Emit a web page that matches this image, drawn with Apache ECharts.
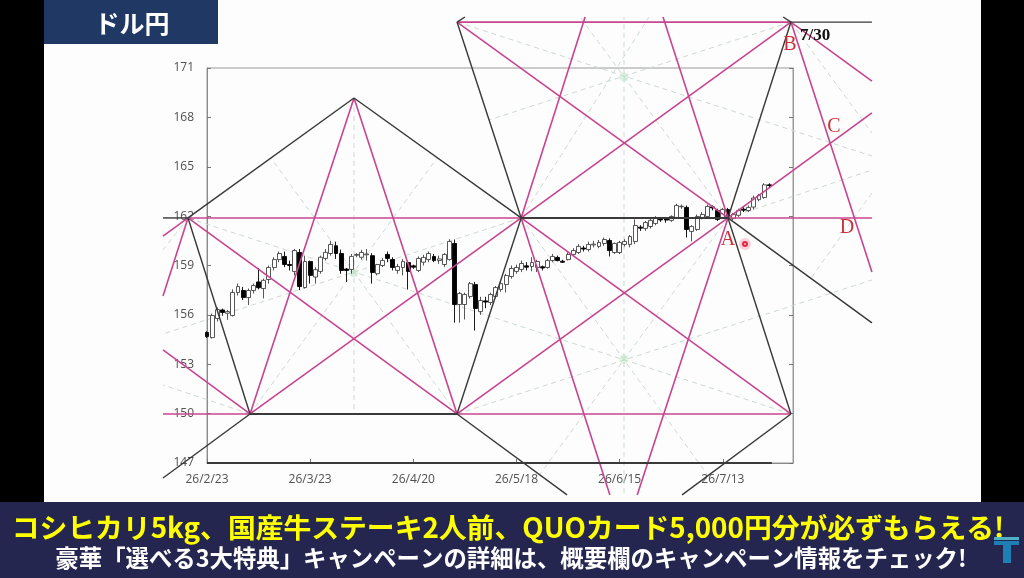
<!DOCTYPE html>
<html><head><meta charset="utf-8">
<style>html,body{margin:0;padding:0;background:#000;overflow:hidden}#c{width:1024px;height:578px}</style>
<script src="https://cdn.jsdelivr.net/npm/echarts@6/dist/echarts.min.js"></script>
</head><body><div id="c"></div>
<script>
const dateLabels=['26/2/23','26/3/23','26/4/20','26/5/18','26/6/15','26/7/13'];
const opens=[154.93,154.62,155.78,156.3,156.1,155.96,157.36,157.48,157.05,157.48,
158.0,157.6,158.15,158.88,159.36,159.55,159.06,158.64,159.79,157.66,
159.24,158.3,158.64,159.43,159.73,160.2,159.73,158.78,158.76,159.62,
159.5,159.65,159.6,158.5,159.0,159.67,159.36,158.7,158.88,159.18,
158.98,158.7,159.2,159.36,159.55,159.3,159.06,159.36,160.34,156.63,
156.63,157.12,157.84,156.2,156.85,156.75,157.12,157.54,157.84,158.33,
158.64,158.76,158.98,158.94,158.88,158.92,158.88,159.3,159.49,159.26,
159.36,159.67,159.79,160.06,159.97,160.25,160.16,160.34,160.52,159.79,
159.79,160.28,160.28,160.46,161.33,161.25,161.37,161.55,161.83,161.83,
161.74,161.92,162.57,162.53,161.07,161.19,161.92,161.98,162.56,162.34,
161.92,162.4,161.85,162.05,162.42,162.34,162.55,163.0,163.13,163.9];
const closes=[154.68,155.96,156.32,156.15,156.2,157.36,157.72,157.05,157.48,157.78,
157.65,158.1,158.88,159.36,159.73,159.06,159.0,159.91,157.72,159.24,
158.4,158.75,159.5,159.8,160.28,159.73,158.7,158.7,159.55,159.67,
159.79,159.7,158.57,159.06,159.3,159.43,158.88,158.94,159.24,158.64,
158.9,159.43,159.49,159.73,159.3,159.4,159.67,160.46,156.63,157.3,
157.24,157.9,156.39,156.87,156.78,157.24,157.66,157.9,158.39,158.82,
158.88,159.12,158.9,159.18,159.24,158.85,159.3,159.55,159.3,159.2,
159.67,159.91,160.16,160.0,160.28,160.3,160.4,160.58,159.91,160.34,
160.4,160.46,160.76,161.43,161.27,161.61,161.74,161.86,161.77,161.76,
161.98,162.65,162.6,161.19,161.37,161.98,162.1,162.59,162.5,161.8,
162.4,161.9,162.1,162.34,162.36,162.53,163.1,163.25,163.9,163.86];
const lows=[154.6,154.56,155.6,155.95,155.7,155.9,157.18,156.9,156.6,157.3,
157.55,157.0,157.9,158.7,159.2,158.9,158.7,158.4,157.5,157.6,
157.9,157.9,158.5,159.3,159.6,159.4,158.5,158.0,158.5,159.5,
159.35,159.3,157.9,158.4,158.9,159.2,158.7,158.5,158.4,157.54,
158.8,158.6,159.0,159.2,159.2,159.1,158.9,159.3,155.53,155.53,
155.72,157.0,155.05,156.0,156.4,156.6,157.0,157.4,157.36,158.2,
158.5,158.6,158.7,158.65,158.6,158.7,158.8,159.2,159.25,159.15,
159.3,159.55,159.7,159.85,159.85,160.1,160.05,160.2,159.55,159.7,
159.7,160.15,160.1,160.3,161.1,161.1,161.25,161.45,161.65,161.6,
161.65,161.85,162.45,160.7,160.46,161.1,161.8,161.85,162.35,161.7,
161.85,161.8,161.75,161.95,162.25,162.25,162.4,162.9,163.05,163.75];
const highs=[155.0,156.08,156.45,156.38,156.3,157.55,157.9,157.7,157.6,157.9,
158.85,158.2,159.0,159.5,159.85,159.85,159.3,160.0,160.0,159.6,
159.3,158.9,159.6,160.0,160.5,160.45,159.97,158.85,159.7,159.75,
159.95,160.0,159.75,159.1,159.45,159.85,159.5,159.1,159.4,159.3,
159.05,159.55,159.65,159.85,159.7,159.6,159.75,160.6,160.58,157.4,
157.35,158.0,158.0,157.1,157.1,157.35,157.75,158.0,158.5,159.0,
159.05,159.3,159.2,159.5,159.35,159.0,159.4,159.7,159.6,159.35,
159.8,160.05,160.3,160.2,160.45,160.5,160.55,160.7,160.65,160.4,
160.5,160.6,160.85,161.8,161.45,161.7,161.85,162.0,161.95,161.95,
162.05,162.75,162.7,162.65,161.45,162.1,162.25,162.7,162.65,162.45,
162.5,162.5,162.2,162.45,162.55,162.65,163.25,163.35,164.0,164.0];

// pentagon vertices, in [trading-day index, yen]
const vL=[-3.68,161.89], vT=[28.5,169.18], vR=[60.9,161.89], vQ1=[8.34,149.98], vQ2=[48.47,149.98],
      vA=[101,161.89], vB=[113.2,173.79], vTL=[48.47,173.79], vQ3=[113.2,149.98];
const blackSegments=[
 [[-8.53,161.89],vL],[vL,vT],[vT,vR],[vR,vQ2],[vQ1,vL],[vQ1,[-8.53,146.09]],[vQ2,[69.8,145.06]],
 [vR,vTL],[vA,vB],[vA,vQ3],[vA,[128.9,155.51]],[vB,[128.9,173.79]],[vTL,[50,174.1]],[vB,[111.7,174.1]],
 [vQ3,[92.1,145.06]]];
const heavySegments=[[vR,vA],[vQ2,vQ1],[[0,147],[109.5,147]]];
const pinkSegments=[
 [vL,vR],[vA,[128.9,161.89]],[vL,vQ2],[vT,vQ1],[vT,vQ2],[vR,vQ1],[vL,[-8.53,160.79]],[vL,[-8.53,157.15]],
 [vQ1,[-8.53,149.98]],[vQ1,[-8.53,153.87]],[vQ2,vQ3],[vTL,vB],[vTL,vA],[vB,vR],[vR,[73.3,174.1]],[vA,[88.4,174.1]],
 [vR,vQ3],[vQ2,vA],[vR,[78.1,145.06]],[vA,[83.4,145.06]],[vB,[128.9,158.6]],[vB,[128.9,170.2]],[vA,[128.9,168.27]]];
const dashedSegments=[
 [vL,[54.67,155.93]],[vR,[-8.53,154.84]],[vT,[28.5,149.98]],[vQ1,[44.6,165.53]],[vQ2,[12.4,165.53]],
 [vTL,[128.9,165.65]],[vB,[54.67,167.84]],[vR,[85.7,174.1]],[vA,[72.3,174.1]],[[80.84,161.89],[80.84,174.1]],
 [vQ2,[128.9,158.12]],[vQ3,[54.67,155.93]],[vR,[96.9,146.33]],[vA,[64.56,146.33]],[[80.84,161.89],[80.84,145.06]],
 [vA,[128.9,164.8]],[vB,[128.9,167.05]],[[128.9,163.41],[117.1,158.24]],[vL,[-8.53,159.94]],[vQ1,[-8.53,151.74]]];
const starCentres=[[28.5,158.55],[80.84,170.45],[80.84,153.32]];

const candles=opens.map((o,i)=>[i,o,closes[i],lows[i],highs[i]]);
// drawn as a custom series so that the construction lines can run past the plot box
const segSeries=(name,segs,style,z)=>({type:'custom',name,z,silent:true,clip:false,
 data:segs.map(s=>[s[0][0],s[0][1],s[1][0],s[1][1]]),
 encode:{x:[0,2],y:[1,3]},
 renderItem:(p,api)=>{
  const a=api.coord([api.value(0),api.value(1)]), b=api.coord([api.value(2),api.value(3)]);
  return {type:'line',shape:{x1:a[0],y1:a[1],x2:b[0],y2:b[1]},style:Object.assign({fill:null},style)};
 }});
const YEL='#ffff00', SERIF='"Liberation Serif","DejaVu Serif",serif', JP='"Noto Sans CJK JP",sans-serif';
const label=(t,x,y)=>({type:'text',z:20,style:{text:t,x,y,fill:'#c8323a',font:'20px '+SERIF,textAlign:'center',textVerticalAlign:'middle'}});

const chart=echarts.init(document.getElementById('c'),null,{renderer:'canvas',width:1024,height:578});
chart.setOption({
 animation:false,backgroundColor:'#000',
 grid:{left:207,top:68,width:586,height:395,show:true,borderColor:'#9a9a9a',borderWidth:1,backgroundColor:'transparent'},
 xAxis:{type:'value',min:0,max:113.6,interval:20,
  axisLine:{show:true,lineStyle:{color:'#8a8a8a'}},splitLine:{show:false},
  axisTick:{show:true,inside:true,length:4,lineStyle:{color:'#777'}},
  axisLabel:{color:'#505050',fontFamily:'"Open Sans",sans-serif',fontSize:12,margin:11,showMaxLabel:false,
   formatter:v=>dateLabels[v/20]||''}},
 yAxis:[
  {type:'value',min:147,max:171,interval:3,splitLine:{show:false},
   axisLine:{show:true,lineStyle:{color:'#8a8a8a'}},
   axisTick:{show:true,inside:true,length:4,lineStyle:{color:'#777'}},
   axisLabel:{color:'#505050',fontFamily:'"Open Sans",sans-serif',fontSize:12,margin:13}},
  {type:'value',position:'right',min:147,max:171,interval:3,splitLine:{show:false},
   axisLine:{show:true,lineStyle:{color:'#9a9a9a'}},
   axisTick:{show:true,inside:true,length:4,lineStyle:{color:'#777'}},axisLabel:{show:false}}],
 series:[
  segSeries('spokes',dashedSegments,{stroke:'#cddad1',lineWidth:1,lineDash:[5,4]},3),
  {type:'scatter',name:'centres',data:starCentres,symbol:'circle',symbolSize:9,z:3,silent:true,clip:false,
   itemStyle:{color:'rgba(180,225,195,0.55)'}},
  {type:'candlestick',name:'USDJPY',data:candles,encode:{x:0,y:[1,2,3,4]},barWidth:4.4,clip:false,z:4,silent:true,
   itemStyle:{color:'#ffffff',color0:'#000000',borderColor:'#444444',borderColor0:'#000000',borderWidth:0.9}},
  segSeries('pink',pinkSegments,{stroke:'#c8448f',lineWidth:1.6},5),
  segSeries('black',blackSegments,{stroke:'#383838',lineWidth:1.4},6),
  segSeries('heavy',heavySegments,{stroke:'#3a3a3a',lineWidth:2},6)
 ],
 graphic:[
  {type:'rect',z:-10,shape:{x:44,y:0,width:937,height:502},style:{fill:'#fdfdfd'}},
  {type:'rect',z:10,shape:{x:44,y:0,width:174,height:44},style:{fill:'#1f3864'}},
  {type:'text',z:11,style:{text:'ドル円',x:132,y:23,fill:'#fff',font:'bold 25px '+JP,textAlign:'center',textVerticalAlign:'middle'}},
  {type:'rect',z:10,shape:{x:0,y:502,width:1024,height:76},style:{fill:'#25264f'}},
  {type:'text',z:11,style:{text:'コシヒカリ5kg、国産牛ステーキ2人前、QUOカード5,000円分が必ずもらえる!',x:508,y:527,fill:YEL,font:'bold 27.8px '+JP,textAlign:'center',textVerticalAlign:'middle'}},
  {type:'text',z:11,style:{text:'豪華「選べる3大特典」キャンペーンの詳細は、概要欄のキャンペーン情報をチェック!',x:511,y:558,fill:'#fff',font:'bold 23.4px '+JP,textAlign:'center',textVerticalAlign:'middle'}},
  {type:'rect',z:12,shape:{x:994,y:537,width:25,height:3},style:{fill:'#4fb3c8'}},
  {type:'rect',z:12,shape:{x:994,y:541,width:25,height:4},style:{fill:'#1f7fb5'}},
  {type:'rect',z:12,shape:{x:1003,y:545,width:8,height:18},style:{fill:'#1f7fb5'}},
  label('A',728,240),label('B',790,45),label('C',834,127),label('D',847,228),
  {type:'text',z:20,style:{text:'7/30',x:800,y:36,fill:'#111',font:'bold 17px '+SERIF,textAlign:'left',textVerticalAlign:'middle'}},
  {type:'circle',z:20,shape:{cx:745,cy:244,r:6},style:{fill:'rgba(235,60,80,0.22)'}},
  {type:'circle',z:21,shape:{cx:745,cy:244,r:3},style:{fill:'#e02a48'}},
  {type:'circle',z:22,shape:{cx:745,cy:244,r:1},style:{fill:'#ffb0c0'}}
 ]
});
</script></body></html>
